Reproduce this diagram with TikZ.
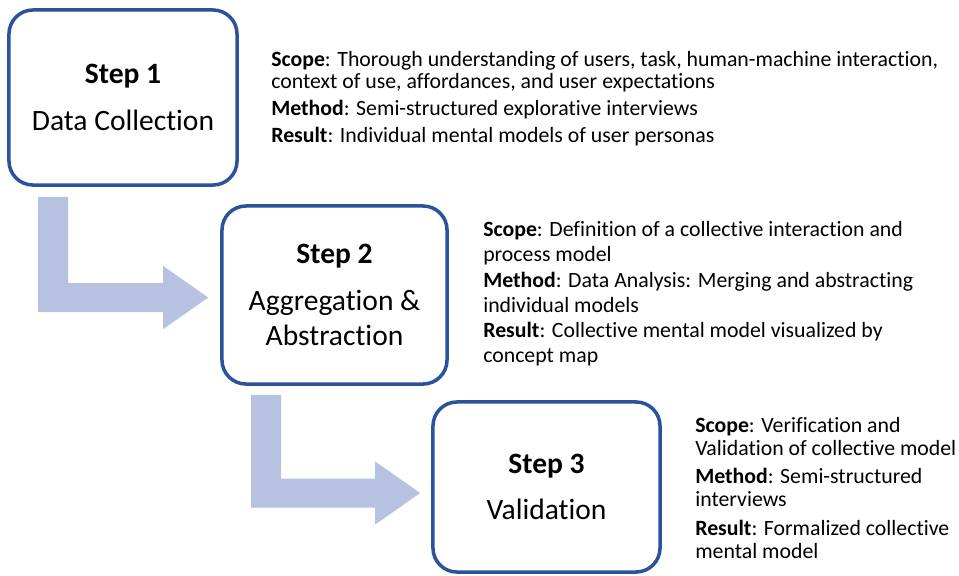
\documentclass[tikz,border=0pt]{standalone}
\usepackage{fontspec}
\setmainfont{Carlito}[RawFeature={-liga;-clig;-calt}]
\usetikzlibrary{calc}

\definecolor{stepblue}{RGB}{44,82,155}
\definecolor{flowfill}{RGB}{182,194,224}

\tikzset{
  stepbox/.style={draw=stepblue, line width=2.5pt, rounded corners=0.6cm, fill=white,
    align=center, inner sep=0pt, font=\fontsize{21}{25}\selectfont},
  notes/.style={anchor=north west, align=left, inner sep=0pt},
  flow/.style={fill=flowfill, draw=none}
}

% elbow arrow: #1 = top left of the shaft, #2 = tip of the head
\newcommand{\bentarrow}[2]{%
  \fill[flow] (#1) -- ++(30,0) -- ($(#1|-#2)+(30,-14.5)$) -- ($(#2)+(-45,-14.5)$)
    -- ($(#2)+(-45,-31.5)$) -- (#2) -- ($(#2)+(-45,31.5)$) -- ($(#2)+(-45,14.5)$)
    -- ($(#1|-#2)+(0,14.5)$) -- cycle;}

\begin{document}
\begin{tikzpicture}[x=0.025cm,y=-0.025cm]
	\useasboundingbox (0,0) rectangle (959,575);

	% the three steps
	\node [stepbox, minimum width=5.7cm, minimum height=4.375cm] (step1) at (123,97.5)
		{\textbf{Step 1}\\[8pt] Data Collection};
	\node [stepbox, minimum width=5.625cm, minimum height=4.45cm] (step2) at (334.5,295)
		{\textbf{Step 2}\\[8pt] Aggregation \&\\ Abstraction};
	\node [stepbox, minimum width=5.675cm, minimum height=4.25cm] (step3) at (546.5,487)
		{\textbf{Step 3}\\[8pt] Validation};

	% arrows between the steps
	\coordinate (a1s) at ($(step1.south west)+(31,10)$);
	\coordinate (a1t) at ($(step2.west)+(-12,2.5)$);
	\coordinate (a2s) at ($(step2.south west)+(31,9)$);
	\coordinate (a2t) at ($(step3.west)+(-11,6)$);
	\bentarrow{a1s}{a1t}
	\bentarrow{a2s}{a2t}

	% scope, method and result of each step
	\node [notes, font=\fontsize{15.5}{15.6}\selectfont] (notes1) at (271,51)
		{\textbf{Scope}: Thorough understanding of users, task, human-machine interaction,\\
		 context of use, affordances, and user expectations\\[3.5pt]
		 \textbf{Method}: Semi-structured explorative interviews\\[3.5pt]
		 \textbf{Result}: Individual mental models of user personas};
	\node [notes, font=\fontsize{15.5}{18}\selectfont] (notes2) at (483,221)
		{\textbf{Scope}: Definition of a collective interaction and\\
		 process model\\
		 \textbf{Method}: Data Analysis: Merging and abstracting\\
		 individual models\\
		 \textbf{Result}: Collective mental model visualized by\\
		 concept map};
	\node [notes, font=\fontsize{15.5}{16.5}\selectfont] (notes3) at (695,417)
		{\textbf{Scope}: Verification and\\
		 Validation of collective model\\[3.5pt]
		 \textbf{Method}: Semi-structured\\
		 interviews\\[3.5pt]
		 \textbf{Result}: Formalized collective\\
		 mental model};
\end{tikzpicture}
\end{document}
